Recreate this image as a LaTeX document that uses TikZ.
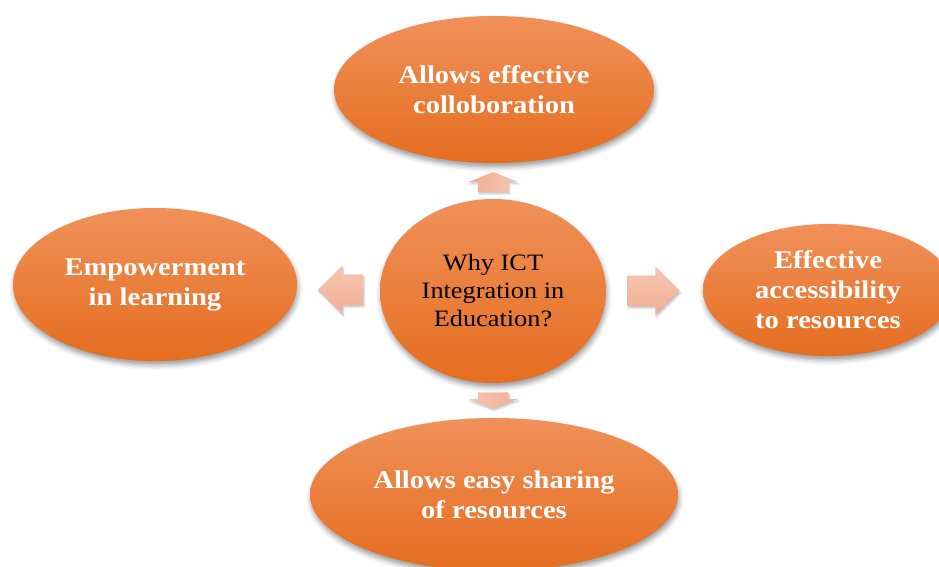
\documentclass[tikz,border=0pt]{standalone}
\usepackage{fontspec}
\setmainfont{Liberation Serif}[FakeStretch=1.12]
\usetikzlibrary{shapes.geometric,shapes.arrows,shadows.blur,calc}

\definecolor{ovalTop}{HTML}{F0915A}
\definecolor{ovalMid}{HTML}{F27D2E}
\definecolor{ovalBot}{HTML}{E56D1F}
\definecolor{arrowTop}{HTML}{F7C6B2}
\definecolor{arrowBot}{HTML}{F0AE94}

\begin{document}
\begin{tikzpicture}[x=1pt, y=1pt,
    oval/.style={ellipse, inner sep=0pt, top color=ovalTop, middle color=ovalMid, bottom color=ovalBot,
        blur shadow={shadow xshift=1pt, shadow yshift=-4pt, shadow blur radius=5pt, shadow opacity=40},
        text=white, align=center, font=\fontsize{25.5}{30}\selectfont\bfseries},
    hub/.style={oval, text=black, font=\fontsize{23.5}{28}\selectfont},
    fatarrow/.style={single arrow, single arrow head extend=9pt, inner xsep=0pt, inner ysep=15pt,
        minimum width=0pt, anchor=tail,
        blur shadow={shadow xshift=1pt, shadow yshift=-2pt, shadow blur radius=2pt, shadow opacity=25}},
    flatarrow/.style={fatarrow, top color=arrowTop, bottom color=arrowBot},
    uparrow/.style={fatarrow, rotate=90, right color=arrowTop, left color=arrowBot},
    downarrow/.style={fatarrow, rotate=270, left color=arrowTop, right color=arrowBot}]
    \useasboundingbox (0,0) rectangle (939,567);

    % Centre question
    \node[hub, minimum width=226pt, minimum height=184pt] (why) at (493,276) {Why ICT\\Integration in\\Education?};

    % Four reasons round it
    \node[oval, minimum width=320pt, minimum height=147pt] (collab) at (494,477.5) {Allows effective\\colloboration};
    \node[oval, minimum width=284pt, minimum height=153pt] (empower) at (155,282.5) {Empowerment\\in learning};
    \node[oval, minimum width=250pt, minimum height=132pt] (access) at (828,277) {Effective\\accessibility\\to resources};
    \node[oval, minimum width=368pt, minimum height=153pt] (sharing) at (494,72.5) {Allows easy sharing\\of resources};

    % Block arrows between the centre and each reason
    \node[uparrow, single arrow tip angle=135, minimum height=20pt] (toCollab) at ($(why.north)!0.19!(collab.south)$) {};
    \node[flatarrow, shape border rotate=180, minimum height=45pt] (toEmpower) at ($(why.west)!0.2!(empower.east)$) {};
    \node[flatarrow, minimum height=52pt] (toAccess) at ($(why.east)!0.22!(access.west)$) {};
    \node[downarrow, single arrow tip angle=138, minimum height=16pt] (toSharing) at ($(why.south)!0.26!(sharing.north)$) {};
\end{tikzpicture}
\end{document}
